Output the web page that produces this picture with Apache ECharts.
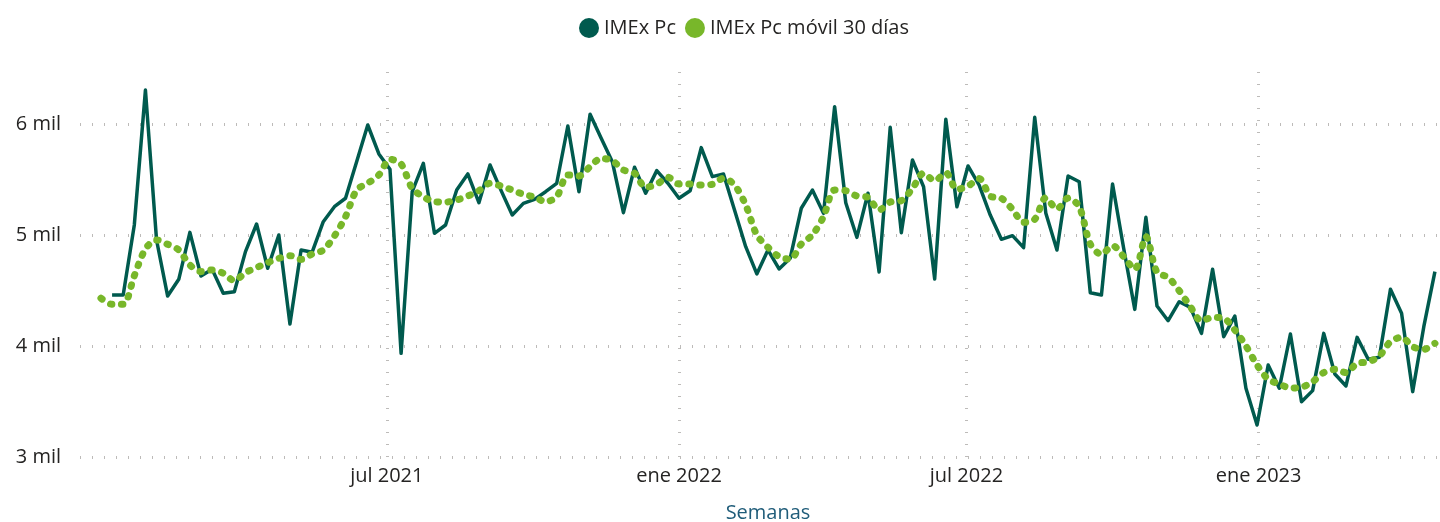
<!DOCTYPE html>
<html>
<head>
<meta charset="utf-8">
<script src="https://cdn.jsdelivr.net/npm/echarts@6/dist/echarts.min.js"></script>
<style>
  html, body { margin: 0; padding: 0; background: #ffffff; }
  #chart { width: 1440px; height: 522px; }
</style>
</head>
<body>
<div id="chart"></div>
<script>
// Weekly dates (Saturdays)
const weeks = [
  '2021-01-02','2021-01-09','2021-01-16','2021-01-23','2021-01-30',
  '2021-02-06','2021-02-13','2021-02-20','2021-02-27',
  '2021-03-06','2021-03-13','2021-03-20','2021-03-27',
  '2021-04-03','2021-04-10','2021-04-17','2021-04-24',
  '2021-05-01','2021-05-08','2021-05-15','2021-05-22','2021-05-29',
  '2021-06-05','2021-06-12','2021-06-19','2021-06-26',
  '2021-07-03','2021-07-10','2021-07-17','2021-07-24','2021-07-31',
  '2021-08-07','2021-08-14','2021-08-21','2021-08-28',
  '2021-09-04','2021-09-11','2021-09-18','2021-09-25',
  '2021-10-02','2021-10-09','2021-10-16','2021-10-23','2021-10-30',
  '2021-11-06','2021-11-13','2021-11-20','2021-11-27',
  '2021-12-04','2021-12-11','2021-12-18','2021-12-25',
  '2022-01-01','2022-01-08','2022-01-15','2022-01-22','2022-01-29',
  '2022-02-05','2022-02-12','2022-02-19','2022-02-26',
  '2022-03-05','2022-03-12','2022-03-19','2022-03-26',
  '2022-04-02','2022-04-09','2022-04-16','2022-04-23','2022-04-30',
  '2022-05-07','2022-05-14','2022-05-21','2022-05-28',
  '2022-06-04','2022-06-11','2022-06-18','2022-06-25',
  '2022-07-02','2022-07-09','2022-07-16','2022-07-23','2022-07-30',
  '2022-08-06','2022-08-13','2022-08-20','2022-08-27',
  '2022-09-03','2022-09-10','2022-09-17','2022-09-24',
  '2022-10-01','2022-10-08','2022-10-15','2022-10-22','2022-10-29',
  '2022-11-05','2022-11-12','2022-11-19','2022-11-26',
  '2022-12-03','2022-12-10','2022-12-17','2022-12-24','2022-12-31',
  '2023-01-07','2023-01-14','2023-01-21','2023-01-28',
  '2023-02-04','2023-02-11','2023-02-18','2023-02-25',
  '2023-03-04','2023-03-11','2023-03-18','2023-03-25',
  '2023-04-01','2023-04-08','2023-04-15','2023-04-22'
];

// IMEx Pc (first week has no value)
const imex = [
  null,4459,4459,5090,6306,4955,4450,4601,5024,4631,
  4691,4475,4489,4850,5099,4700,5000,4198,4865,4845,
  5120,5255,5331,5660,5991,5730,5592,3934,5390,5646,
  5015,5090,5405,5550,5291,5631,5400,5180,5285,5321,
  5390,5466,5982,5390,6087,5871,5660,5201,5610,5376,
  5580,5466,5331,5399,5787,5526,5550,5222,4895,4649,
  4865,4694,4790,5241,5405,5195,6156,5291,4979,5376,
  4667,5970,5021,5676,5435,4604,6042,5255,5622,5450,
  5180,4961,4994,4886,6060,5195,4865,5532,5480,4480,
  4459,5459,4880,4330,5159,4360,4228,4399,4348,4114,
  4691,4084,4270,3619,3288,3829,3619,4108,3498,3598,
  4114,3748,3640,4078,3880,3898,4511,4295,3589,4174,
  4670
];

// IMEx Pc móvil 30 días
const imexMovil = [
  4430,4376,4376,4633,4874,4955,4916,4865,4730,4670,
  4685,4655,4589,4661,4706,4751,4790,4814,4780,4829,
  4865,4991,5165,5405,5466,5541,5682,5640,5420,5345,
  5300,5297,5315,5351,5399,5466,5441,5405,5366,5342,
  5300,5345,5541,5532,5616,5691,5669,5586,5556,5430,
  5457,5520,5459,5459,5450,5457,5511,5450,5270,5000,
  4889,4805,4781,4919,5000,5165,5405,5399,5351,5339,
  5225,5297,5309,5420,5556,5489,5561,5411,5441,5508,
  5351,5331,5231,5114,5141,5336,5234,5333,5255,4919,
  4826,4904,4805,4691,4985,4664,4619,4498,4354,4227,
  4258,4249,4144,4000,3829,3700,3658,3622,3628,3679,
  3760,3790,3760,3844,3856,3910,4039,4078,3994,3970,
  4024
];

const xLabelDates = ['2021-07-01','2022-01-01','2022-07-01','2023-01-01'];
const xLabelTexts = ['jul 2021','ene 2022','jul 2022','ene 2023'];
const yTicks = [3000, 4000, 5000, 6000];

const FONT = '"Open Sans", "Noto Sans", sans-serif';
const DAY = 86400000;
const ts = s => new Date(s + 'T00:00:00Z').getTime();
const t0 = ts(weeks[0]);
const xLabelTs = xLabelDates.map(ts);

const chart = echarts.init(document.getElementById('chart'), null, { renderer: 'canvas' });

const gridLineStyle = { color: '#bdbbb9', width: 3, type: [1, 11] };

chart.setOption({
  animation: false,
  backgroundColor: '#ffffff',
  textStyle: { fontFamily: FONT },
  legend: {
    top: 13,
    left: 574,
    itemWidth: 20,
    itemHeight: 20,
    itemGap: 9,
    icon: 'circle',
    textStyle: { fontFamily: FONT, fontSize: 20, color: '#252423' },
    data: ['IMEx Pc', 'IMEx Pc móvil 30 días']
  },
  grid: { left: 80, right: 0, top: 68.5, bottom: 65, containLabel: false, outerBoundsMode: 'none' },
  xAxis: {
    type: 'value',
    min: t0 - 13.2 * DAY,
    max: t0 + 843.2 * DAY,
    axisLine: { show: false },
    axisTick: { show: false },
    splitLine: { show: false },
    axisLabel: {
      customValues: xLabelTs,
      formatter: function (v) {
        const i = xLabelTs.indexOf(v);
        return i >= 0 ? xLabelTexts[i] : '';
      },
      fontFamily: FONT, fontSize: 20, color: '#252423', margin: 9
    },
    name: 'Semanas',
    nameLocation: 'middle',
    nameGap: 46,
    nameTextStyle: { fontFamily: FONT, fontSize: 20, color: '#1f5c79', padding: [0, 0, 0, 16] }
  },
  yAxis: {
    type: 'value',
    min: 3000,
    max: 6500,
    axisLine: { show: false },
    axisTick: { show: false },
    splitLine: { show: false },
    axisLabel: {
      customValues: yTicks,
      formatter: v => (v / 1000) + ' mil',
      fontFamily: FONT, fontSize: 20, color: '#252423', margin: 19
    }
  },
  series: [
    {
      name: 'IMEx Pc',
      type: 'line',
      data: weeks.map((w, i) => [ts(w), imex[i]]),
      showSymbol: false,
      symbol: 'none',
      color: '#005a4e',
      lineStyle: { color: '#005a4e', width: 3.5, join: 'round' },
      z: 3,
      markLine: {
        silent: true,
        symbol: 'none',
        label: { show: false },
        lineStyle: gridLineStyle,
        data: xLabelTs.map(t => ({ xAxis: t })).concat(yTicks.map(v => ({ yAxis: v }))),
        z: 1
      }
    },
    {
      name: 'IMEx Pc móvil 30 días',
      type: 'line',
      data: weeks.map((w, i) => [ts(w), imexMovil[i]]),
      showSymbol: false,
      symbol: 'none',
      smooth: 0.3,
      color: '#78b72a',
      lineStyle: { color: '#78b72a', width: 7, type: [1.5, 9.5], cap: 'round' },
      z: 4
    }
  ]
});
</script>
</body>
</html>
